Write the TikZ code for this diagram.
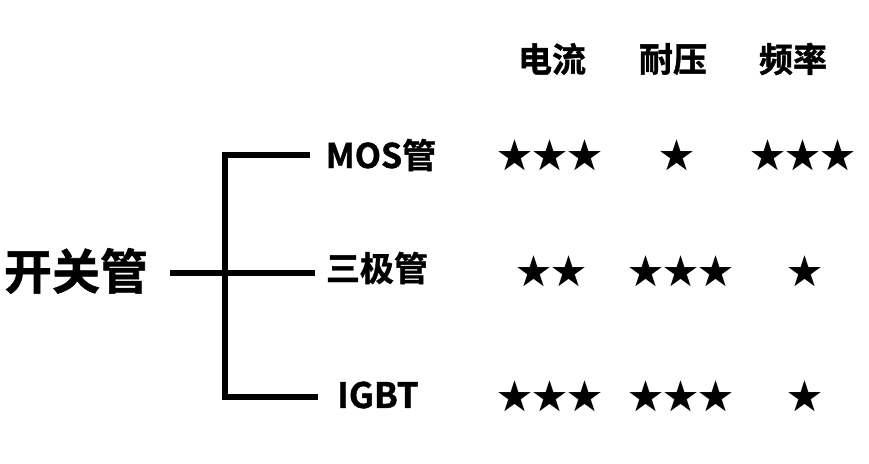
\documentclass[tikz,border=0pt]{standalone}
\usepackage{fontspec}
\setmainfont{Noto Sans CJK SC}[BoldFont={Noto Sans CJK SC Bold}, BoldFeatures={FakeBold=1.2}]
\begin{document}
\begin{tikzpicture}[x=1pt,y=-1pt,
  lbl/.style={font=\bfseries\fontsize{34}{34}\selectfont, inner sep=0pt, anchor=center},
  root/.style={font=\bfseries\fontsize{48}{48}\selectfont, inner sep=0pt, anchor=center},
  stars/.style={font=\fontsize{35}{35}\selectfont, inner sep=0pt, anchor=center},
  bracket/.style={line width=6.5pt, miter limit=10}]
\useasboundingbox (0,0) rectangle (869,463);
% root and branches
\node[root] (kg) at (76,271) {开关管};
\node[lbl] (mos) at (381,155) {MOS管};
\node[lbl] (sj) at (377,268) {三极管};
\node[lbl, font=\bfseries\fontsize{35}{35}\selectfont] (igbt) at (378,395) {IGBT};
% headers
\node[lbl] (h1) at (552,59) {电流};
\node[lbl] (h2) at (673,59) {耐压};
\node[lbl] (h3) at (793,59) {频率};
% stars
\node[stars] (s11) at (550,155) {★★★};
\node[stars] (s12) at (677,155) {★};
\node[stars] (s13) at (803,155) {★★★};
\node[stars] (s21) at (551,271) {★★};
\node[stars] (s22) at (681,271) {★★★};
\node[stars] (s23) at (805,271) {★};
\node[stars] (s31) at (550,396) {★★★};
\node[stars] (s32) at (681,396) {★★★};
\node[stars] (s33) at (805,396) {★};
% connectors
\coordinate (rootend) at (170,273);
\coordinate (midend) at (315,273);
\coordinate (topend) at (310,155);
\coordinate (botend) at (318,397);
\coordinate (vtop) at (225,155);
\coordinate (vbot) at (225,397);
\draw[bracket] (topend) -- (vtop) -- (vbot) -- (botend);
\draw[bracket] (rootend) -- (midend);
\end{tikzpicture}
\end{document}
